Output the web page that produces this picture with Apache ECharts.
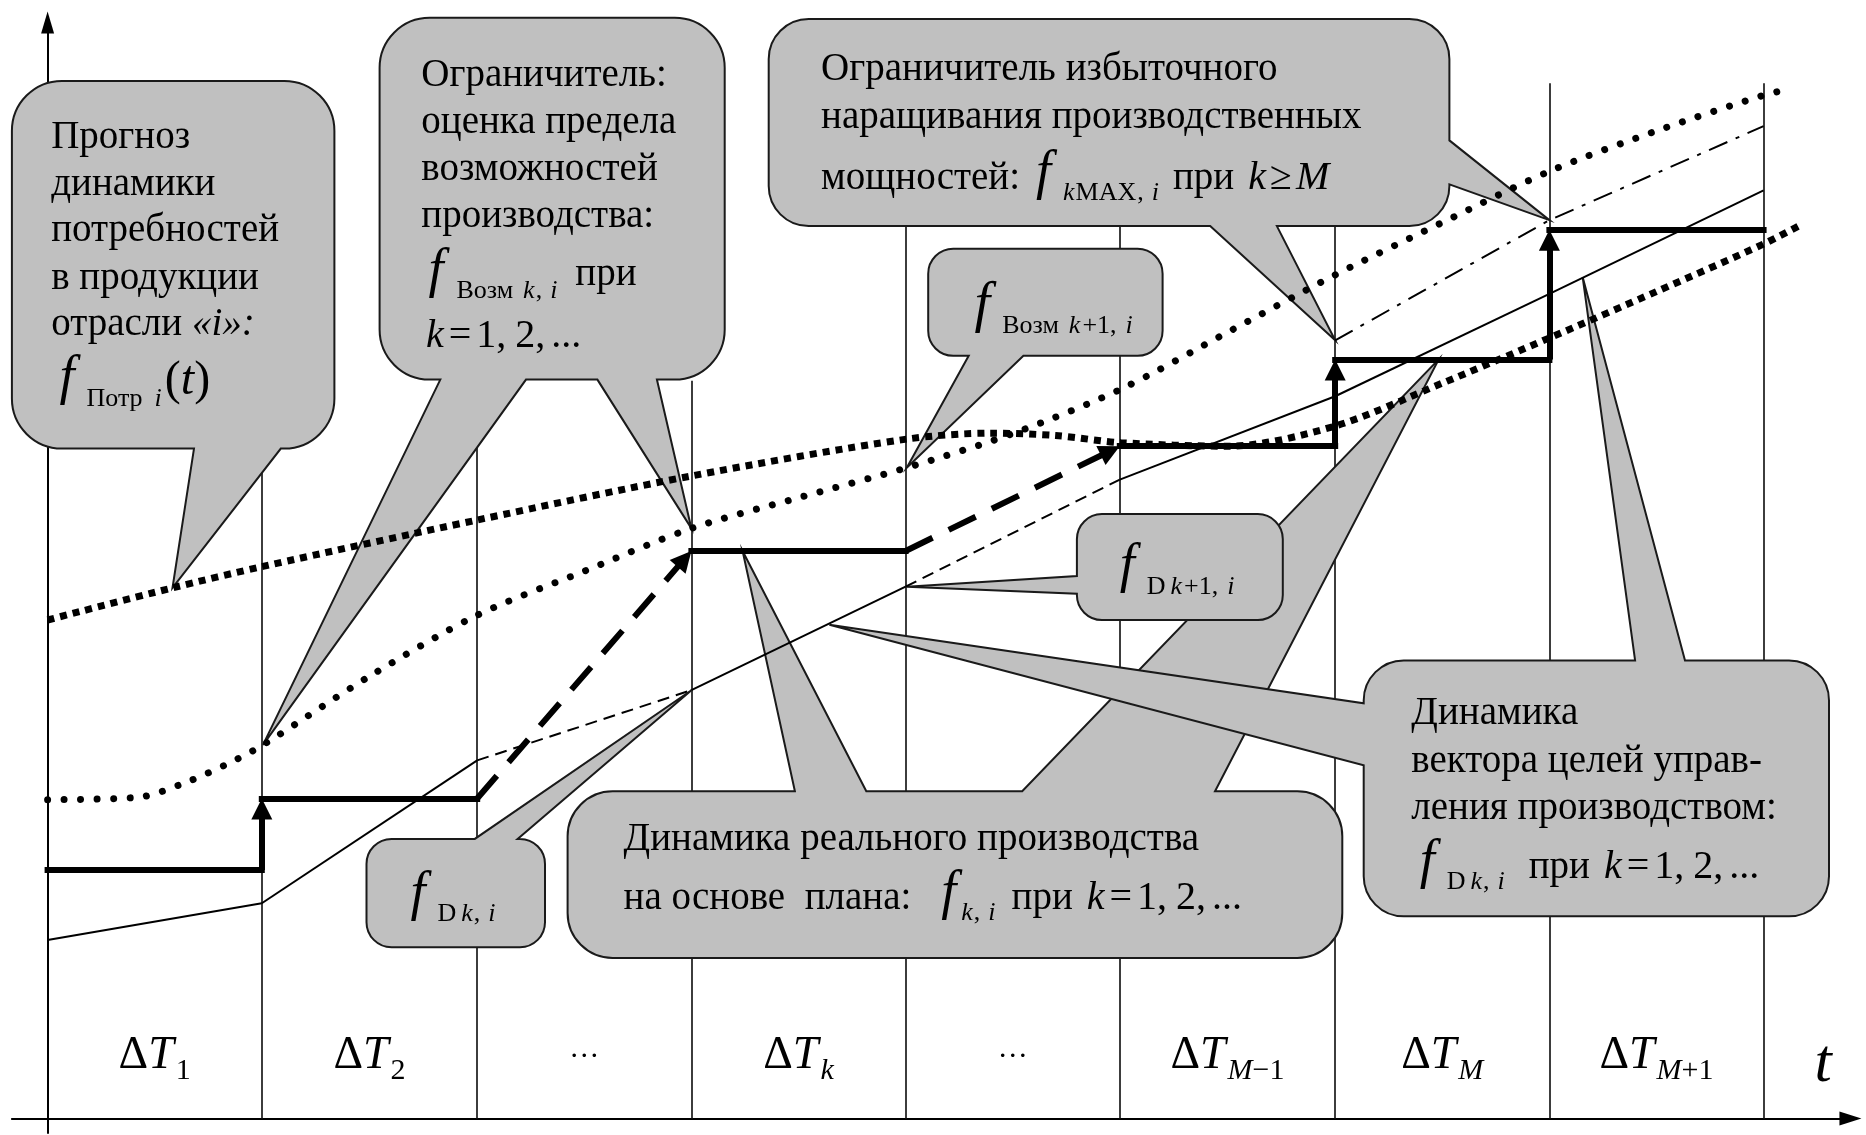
<!DOCTYPE html>
<html>
<head>
<meta charset="utf-8">
<style>
  html, body { margin: 0; padding: 0; background: #fff; }
  #main { width: 1866px; height: 1135px; }
</style>
</head>
<body>
<div id="main"></div>
<script src="https://cdn.jsdelivr.net/npm/echarts@6/dist/echarts.min.js"></script>
<script>
// time t and values are in chart units (same scale on both axes)
var tBounds = [0, 180, 361, 541, 721, 901, 1082, 1262, 1442];
var gridTops = [562, 620, 620, 750, 750, 750, 870, 870];
var intervalSubs = ['1', '2', null, 'k', null, 'M−1', 'M', 'M+1'];

// forecast of demand f_Потр i(t)
var demandT = [0, 105, 181, 361, 541, 722, 793, 847, 902, 992, 1082, 1172, 1262, 1352, 1442, 1475];
var demandY = [419, 446, 464, 503, 540, 571, 576, 574, 568, 565, 582, 618, 656, 695, 735, 752];

// limit of production capability f_Возм k,i
var capT = [0, 76, 115, 153, 181, 271, 361, 451, 541, 632, 722, 812, 902, 992, 1082, 1172, 1262, 1352, 1442, 1463];
var capY = [268, 270, 282, 299, 314, 372, 423, 460, 496, 522, 547, 576, 613, 661, 709, 753, 796, 830, 860, 865];

// limiter of excess capacity f_kMAX,i
var maxT = [1082, 1262, 1442];
var maxY = [654, 755, 834];

// real production f_k,i (1 = dashed segment)
var prodT = [0, 180, 361, 541, 721, 901, 1082, 1262, 1442];
var prodY = [150, 181, 301, 360, 447, 537, 607, 693, 780];
var prodDashed = [0, 0, 1, 0, 1, 0, 0, 0];

// vector of goals f_D k,i
var goalFrom = [0, 180, 541, 901, 1082, 1262];
var goalTo = [180, 361, 721, 1082, 1262, 1442];
var goalY = [209, 269, 477, 565, 638, 747];

// formula pieces: [text, size, italic, dy(px down), gapBefore(px)]
var SUB = 26, SD = 10;
var kEq = [['k', 40, 1, 0, 14], ['=', 40, 0, 0, 5], ['1,', 40, 0, 0, 5], ['2,', 40, 0, 0, 9], ['...', 40, 0, 0, 6]];
var subKI = [['k', SUB, 1, SD, 5], [',', SUB, 0, SD, 1], ['i', SUB, 1, SD, 8]];
var subK1I = [['k', SUB, 1, SD, 5], ['+1,', SUB, 0, SD, 2], ['i', SUB, 1, SD, 9]];

// callouts: box [t0, t1, yTop, yBottom], tips [edge, base1, base2, tipT, tipY]
var callouts = [
  { box: [-30, 241, 872, 563], r: 50,
    tips: [['bottom', 123, 196, 105, 446]],
    text: [
      [3, 813, 'Прогноз'],
      [3, 774, 'динамики'],
      [3, 735, 'потребностей'],
      [3, 695, 'в продукции'],
      [3, 656, [['отрасли '], ['«i»:', 39, 1]]],
      [10, 606, [['f', 54, 1], ['Потр', SUB, 0, SD, 12], ['i', SUB, 1, SD, 12], ['(', 48, 0, 0, 3], ['t', 48, 1], [')', 48, 0]]]
    ] },
  { box: [279, 569, 925, 621], r: 50,
    tips: [['bottom', 330, 402, 181, 314], ['bottom', 462, 512, 541, 496]],
    text: [
      [314, 865, 'Ограничитель:'],
      [314, 826, 'оценка предела'],
      [314, 786, 'возможностей'],
      [314, 747, 'производства:'],
      [320, 696, [['f', 54, 1], ['Возм', SUB, 0, SD, 13], ['k', SUB, 1, SD, 10], [',', SUB, 0, SD, 1], ['i', SUB, 1, SD, 8], ['при', 39, 0, -2, 18]]],
      [318, 646, kEq.map(function (r, j) { return j === 0 ? ['k', 40, 1] : r; })]
    ] },
  { box: [606, 1178, 924, 750], r: 40,
    tips: [['bottom', 977, 1033, 1082, 654], ['right', 822, 785, 1262, 755]],
    text: [
      [650, 870, 'Ограничитель избыточного'],
      [650, 830, 'наращивания производственных'],
      [650, 779, [['мощностей:'], ['f', 54, 1, 0, 16], ['k', SUB, 1, SD, 12], ['MAX', SUB, 0, SD, 1], [',', SUB, 0, SD, 1], ['i', SUB, 1, SD, 8], ['при', 39, 0, 0, 14], ['k', 40, 1, 0, 14], ['≥', 40, 0, 0, 4], ['M', 40, 1, 0, 4]]]
    ] },
  { box: [740, 937, 731, 641], r: 25,
    tips: [['bottom', 774, 820, 722, 547]],
    text: [[779, 667, [['f', 56, 1], ['Возм', SUB, 0, SD, 12], ['k', SUB, 1, SD, 10], ['+1,', SUB, 0, SD, 2], ['i', SUB, 1, SD, 9]]]] },
  { box: [437, 1088, 275, 135], r: 45,
    tips: [['top', 628, 688, 584, 477], ['top', 819, 981, 1169, 638]],
    text: [
      [484, 223, 'Динамика реального производства'],
      [484, 174, [['на основе  плана:'], ['f', 54, 1, 0, 30]].concat(subKI, [['при', 39, 0, 0, 16]], kEq)]
    ] },
  { box: [865, 1038, 508, 419], r: 25,
    tips: [['left', 456, 441, 722, 447]],
    text: [[901, 448, [['f', 54, 1], ['D', SUB, 0, SD, 12]].concat(subK1I)]] },
  { box: [1106, 1497, 385, 170], r: 40,
    tips: [['left', 349, 297, 657, 415], ['top', 1334, 1376, 1290, 707]],
    text: [
      [1146, 329, 'Динамика'],
      [1146, 289, 'вектора целей управ-'],
      [1146, 249, 'ления производством:'],
      [1153, 200, [['f', 54, 1], ['D', SUB, 0, SD, 12]].concat(subKI, [['при', 39, 0, 0, 24]], kEq)]
    ] },
  { box: [268, 418, 235, 144], r: 25,
    tips: [['top', 359, 395, 541, 360]],
    text: [[305, 173, [['f', 54, 1], ['D', SUB, 0, SD, 12]].concat(subKI)]] }
];

var labelY = 40;

// ---- helpers ----
var U = 1.19, X0 = -30, X1 = 1515, Y0 = -12, Y1 = 921;
var BODY = 39;
var SERIF = '"Liberation Serif", "Times New Roman", serif';
function font(size, it) { return (it ? 'italic ' : '') + size + 'px ' + SERIF; }
var mctx = document.createElement('canvas').getContext('2d');
function runWidth(r) { mctx.font = font(r[1] || BODY, r[2]); return mctx.measureText(r[0]).width; }

function textLine(px, py, runs, align) {
  var els = [], x = px, i, r, size;
  if (align === 'center') {
    var total = 0;
    for (i = 0; i < runs.length; i++) total += (runs[i][4] || 0) + runWidth(runs[i]);
    x = px - total / 2;
  }
  for (i = 0; i < runs.length; i++) {
    r = runs[i];
    size = r[1] || BODY;
    x += r[4] || 0;
    els.push({
      type: 'text', x: x, y: py + (r[3] || 0) - 0.3375 * size,
      style: { text: r[0], font: font(size, r[2]), fill: '#000', align: 'left', verticalAlign: 'middle' }
    });
    x += runWidth(r);
  }
  return els;
}

function subRuns(s) {
  var out = [], last = null;
  for (var i = 0; i < s.length; i++) {
    var ch = s[i], it = /[A-Za-z]/.test(ch) ? 1 : 0;
    if (last && last[2] === it) last[0] += ch;
    else { last = [ch, 30, it, 10, out.length ? 0 : 2]; out.push(last); }
  }
  return out;
}

function pt(x, y) { return x.toFixed(1) + ' ' + y.toFixed(1); }

function calloutPath(c, api) {
  var a = api.coord([c.box[0], c.box[2]]), b = api.coord([c.box[1], c.box[3]]);
  var x0 = a[0], y0 = a[1], x1 = b[0], y1 = b[1], r = c.r, K = 0.5523 * r;
  function on(edge) { return c.tips.filter(function (t) { return t[0] === edge; }); }
  function X(v) { return api.coord([v, 0])[0]; }
  function Y(v) { return api.coord([0, v])[1]; }
  function tipPt(t) { var p = api.coord([t[3], t[4]]); return ' L' + pt(p[0], p[1]); }
  var d = 'M' + pt(x0 + r, y0);
  on('top').sort(function (p, q) { return p[1] - q[1]; }).forEach(function (t) {
    var lo = Math.min(t[1], t[2]), hi = Math.max(t[1], t[2]);
    d += ' L' + pt(X(lo), y0) + tipPt(t) + ' L' + pt(X(hi), y0);
  });
  d += ' L' + pt(x1 - r, y0) + ' C' + pt(x1 - r + K, y0) + ' ' + pt(x1, y0 + r - K) + ' ' + pt(x1, y0 + r);
  on('right').forEach(function (t) {
    var lo = Math.min(t[1], t[2]), hi = Math.max(t[1], t[2]);
    d += ' L' + pt(x1, Y(hi)) + tipPt(t) + ' L' + pt(x1, Y(lo));
  });
  d += ' L' + pt(x1, y1 - r) + ' C' + pt(x1, y1 - r + K) + ' ' + pt(x1 - r + K, y1) + ' ' + pt(x1 - r, y1);
  on('bottom').sort(function (p, q) { return q[1] - p[1]; }).forEach(function (t) {
    var lo = Math.min(t[1], t[2]), hi = Math.max(t[1], t[2]);
    d += ' L' + pt(X(hi), y1) + tipPt(t) + ' L' + pt(X(lo), y1);
  });
  d += ' L' + pt(x0 + r, y1) + ' C' + pt(x0 + r - K, y1) + ' ' + pt(x0, y1 - r + K) + ' ' + pt(x0, y1 - r);
  on('left').forEach(function (t) {
    var lo = Math.min(t[1], t[2]), hi = Math.max(t[1], t[2]);
    d += ' L' + pt(x0, Y(lo)) + tipPt(t) + ' L' + pt(x0, Y(hi));
  });
  d += ' L' + pt(x0, y0 + r) + ' C' + pt(x0, y0 + r - K) + ' ' + pt(x0 + r - K, y0) + ' ' + pt(x0 + r, y0) + ' Z';
  return d;
}

function pairs(xs, ys) { return xs.map(function (x, i) { return [x, ys[i]]; }); }

// pull the end of an arrow back so the arrow head tip lands on the target
var ARROW = 21;
function shorten(p, q) {
  var dx = q[0] - p[0], dy = q[1] - p[1], L = Math.sqrt(dx * dx + dy * dy), u = (ARROW / 2) / U / L;
  return [q[0] - dx * u, q[1] - dy * u];
}

var gridData = gridTops.map(function (top, i) {
  return { coords: [[tBounds[i + 1], 0], [tBounds[i + 1], top]] };
});

var prodData = [];
for (var i = 0; i < prodT.length - 1; i++) {
  prodData.push({
    coords: [[prodT[i], prodY[i]], [prodT[i + 1], prodY[i + 1]]],
    lineStyle: { type: prodDashed[i] ? [12, 7] : 'solid' }
  });
}

var goalData = goalFrom.map(function (t, i) { return { coords: [[t, goalY[i]], [goalTo[i], goalY[i]]] }; });
var goalArrows = [];
for (i = 0; i < goalY.length - 1; i++) {
  var p = [goalTo[i], goalY[i]], q = [goalFrom[i + 1], goalY[i + 1]];
  goalArrows.push({
    coords: [p, shorten(p, q)],
    lineStyle: { type: p[0] === q[0] ? 'solid' : [30, 18] }
  });
}

var chart = echarts.init(document.getElementById('main'), null, { renderer: 'canvas' });

var option = {
  animation: false,
  backgroundColor: '#fff',
  grid: {
    left: (X0 + 40) * U, top: (940 - Y1) * U,
    width: (X1 - X0) * U, height: (Y1 - Y0) * U,
    containLabel: false, outerBoundsMode: 'none'
  },
  xAxis: {
    type: 'value', min: X0, max: X1,
    axisLine: { onZero: true, symbol: ['none', 'triangle'], symbolSize: [14, 22], lineStyle: { color: '#000', width: 2 } },
    axisTick: { show: false }, axisLabel: { show: false }, splitLine: { show: false }
  },
  yAxis: {
    type: 'value', min: Y0, max: Y1,
    axisLine: { onZero: true, symbol: ['none', 'triangle'], symbolSize: [13, 22], lineStyle: { color: '#000', width: 2 } },
    axisTick: { show: false }, axisLabel: { show: false }, splitLine: { show: false }
  },
  series: [
    {
      type: 'lines', coordinateSystem: 'cartesian2d', z: 1, silent: true,
      lineStyle: { color: '#1a1a1a', width: 1.7, opacity: 1 },
      data: gridData
    },
    {
      type: 'custom', coordinateSystem: 'cartesian2d', z: 3, silent: true,
      data: callouts.map(function (c, k) { return [k, 0]; }),
      renderItem: function (params, api) {
        var c = callouts[params.dataIndex];
        var children = [{
          type: 'path', shape: { pathData: calloutPath(c, api) },
          style: { fill: '#c0c0c0', stroke: '#1a1a1a', lineWidth: 2, lineJoin: 'miter' }
        }];
        c.text.forEach(function (ln) {
          var p = api.coord([ln[0], ln[1]]);
          var runs = typeof ln[2] === 'string' ? [[ln[2]]] : ln[2];
          children = children.concat(textLine(p[0], p[1], runs));
        });
        return { type: 'group', children: children };
      }
    },
    {
      type: 'lines', coordinateSystem: 'cartesian2d', z: 5, silent: true,
      lineStyle: { color: '#000', width: 2, opacity: 1 },
      data: prodData
    },
    {
      type: 'line', z: 5, silent: true, symbol: 'none',
      lineStyle: { color: '#000', width: 2, type: [20, 9, 4, 9] },
      data: pairs(maxT, maxY)
    },
    {
      type: 'line', z: 6, silent: true, symbol: 'none', smooth: 0.3,
      lineStyle: { color: '#000', width: 7, type: [7, 6], cap: 'butt' },
      data: pairs(demandT, demandY)
    },
    {
      type: 'line', z: 6, silent: true, symbol: 'none', smooth: 0.3,
      lineStyle: { color: '#000', width: 7, type: [0.01, 16.5], cap: 'round' },
      data: pairs(capT, capY)
    },
    {
      type: 'lines', coordinateSystem: 'cartesian2d', z: 7, silent: true,
      lineStyle: { color: '#000', width: 6, opacity: 1, cap: 'square' },
      data: goalData
    },
    {
      type: 'lines', coordinateSystem: 'cartesian2d', z: 7, silent: true,
      symbol: ['none', 'triangle'], symbolSize: ARROW,
      lineStyle: { color: '#000', width: 6, opacity: 1 },
      data: goalArrows
    },
    {
      type: 'custom', coordinateSystem: 'cartesian2d', z: 8, silent: true,
      data: intervalSubs.concat(['t']).map(function (s, k) { return [k, 0]; }),
      renderItem: function (params, api) {
        var k = params.dataIndex, p, runs;
        if (k === intervalSubs.length) {
          p = api.coord([1492, 28]);
          return { type: 'group', children: textLine(p[0], p[1], [['t', 62, 1]], 'center') };
        }
        var s = intervalSubs[k];
        p = api.coord([(tBounds[k] + tBounds[k + 1]) / 2, labelY]);
        runs = s === null ? [['…', 30, 0, -12]] : [['Δ', 46], ['T', 46, 1]].concat(subRuns(s));
        return { type: 'group', children: textLine(p[0], p[1], runs, 'center') };
      }
    }
  ]
};

chart.setOption(option);
</script>
</body>
</html>
